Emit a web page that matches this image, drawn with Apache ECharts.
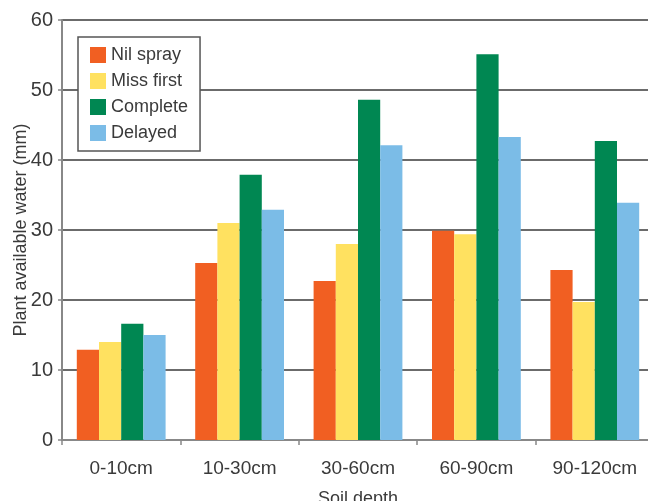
<!DOCTYPE html>
<html>
<head>
<meta charset="utf-8">
<style>
  html, body { margin: 0; padding: 0; background: #fff; }
  #chart { width: 648px; height: 501px; }
</style>
<script src="https://cdn.jsdelivr.net/npm/echarts@6/dist/echarts.min.js"></script>
</head>
<body>
<div id="chart"></div>
<script>
// Plant available water by soil depth for four spray treatments
const depths = ['0-10cm', '10-30cm', '30-60cm', '60-90cm', '90-120cm'];
const nilSpray   = [12.9, 25.3, 22.7, 29.9, 24.3];
const missFirst  = [14.0, 31.0, 28.0, 29.4, 19.7];
const complete   = [16.6, 37.9, 48.6, 55.1, 42.7];
const delayed    = [15.0, 32.9, 42.1, 43.3, 33.9];
const yTicks = [0, 10, 20, 30, 40, 50, 60];

const FONT = '"Liberation Sans Narrow", "Liberation Sans", Arial, sans-serif';
const TEXT = '#3a3a3a';

const seriesDefs = [
  { name: 'Nil spray',  data: nilSpray,  color: '#F15F22' },
  { name: 'Miss first', data: missFirst, color: '#FFE160' },
  { name: 'Complete',   data: complete,  color: '#008752' },
  { name: 'Delayed',    data: delayed,   color: '#7BBCE7' }
];

const chart = echarts.init(document.getElementById('chart'), null, { renderer: 'canvas' });
chart.setOption({
  animation: false,
  backgroundColor: '#fff',
  textStyle: { fontFamily: FONT },
  grid: {
    left: 62, top: 20, width: 592, height: 420,
    containLabel: false,
    outerBoundsMode: 'none'
  },
  legend: {
    orient: 'vertical',
    left: 78, top: 37,
    icon: 'rect',
    itemWidth: 16, itemHeight: 16, itemGap: 8,
    padding: [9, 12, 9, 12],
    borderColor: '#555', borderWidth: 1.5,
    backgroundColor: '#fff',
    textStyle: { fontFamily: FONT, fontSize: 18, color: TEXT },
    data: seriesDefs.map(s => s.name)
  },
  xAxis: {
    type: 'category',
    data: depths,
    name: 'Soil depth',
    nameLocation: 'middle',
    nameGap: 50,
    nameMoveOverlap: false,
    nameTextStyle: { fontFamily: FONT, fontSize: 18, color: TEXT },
    axisLine: { lineStyle: { color: '#888', width: 2 } },
    axisTick: { show: true, alignWithLabel: false, length: 5, lineStyle: { color: '#888', width: 1.5 } },
    axisLabel: { fontFamily: FONT, fontSize: 19, color: TEXT, margin: 19 }
  },
  yAxis: {
    type: 'value',
    min: yTicks[0], max: yTicks[yTicks.length - 1], interval: 10,
    name: 'Plant available water (mm)',
    nameLocation: 'middle',
    nameGap: 32,
    nameMoveOverlap: false,
    nameRotate: 90,
    nameTextStyle: { fontFamily: FONT, fontSize: 18, color: TEXT },
    axisLine: { show: true, lineStyle: { color: '#888', width: 2 } },
    axisTick: { show: true, length: 4, lineStyle: { color: '#888', width: 1.5 } },
    axisLabel: { fontFamily: FONT, fontSize: 20, color: TEXT, margin: 9 },
    splitLine: { show: true, lineStyle: { color: '#3a3a3a', width: 1.5 } }
  },
  series: seriesDefs.map(s => ({
    name: s.name,
    type: 'bar',
    data: s.data,
    barGap: '0%',
    barCategoryGap: '25%',
    itemStyle: { color: s.color }
  }))
});
</script>
</body>
</html>
